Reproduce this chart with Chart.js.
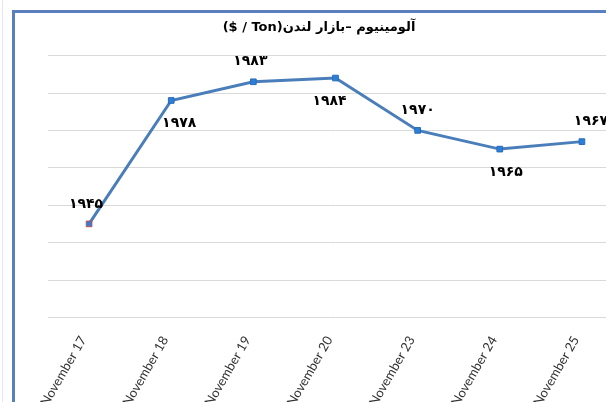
<!DOCTYPE html>
<html>
<head>
<meta charset="utf-8">
<script src="https://cdn.jsdelivr.net/npm/chart.js@4"></script>
<style>
  html, body { margin: 0; padding: 0; background: #fff; overflow: hidden; width: 606px; height: 402px; }
  #edge { position: absolute; left: 2px; top: 0; width: 1px; height: 402px; background: #dfe7f3; }
  #frame { position: absolute; left: 12px; top: 10px; border: 3px solid #5a7fbe; width: 625px; height: 420px; }
</style>
</head>
<body>
<div id="edge"></div>
<div id="frame"><canvas id="myChart" width="625" height="420"></canvas></div>
<script>
const categories = ["November 17", "November 18", "November 19", "November 20", "November 23", "November 24", "November 25"];
const prices = [1945, 1978, 1983, 1984, 1970, 1965, 1967];
// LTR canvas: unit first so it lands on the left like the original
const titleText = "($ / Ton)آلومینیوم –بازار لندن";

const faDigits = "۰۱۲۳۴۵۶۷۸۹";
const toFa = (n) => String(n).replace(/\d/g, (d) => faDigits[d]);

const pointLabels = {
  id: "pointLabels",
  afterDatasetsDraw(chart, args, opts) {
    const ctx = chart.ctx;
    const meta = chart.getDatasetMeta(0);
    ctx.save();
    ctx.font = "bold 14px 'DejaVu Sans'";
    ctx.fillStyle = "#000";
    ctx.textAlign = "center";
    ctx.textBaseline = "middle";
    meta.data.forEach((pt, i) => {
      const up = opts.side[i] === "above";
      ctx.fillText(toFa(prices[i]), pt.x + (opts.dx[i] || 0), pt.y + (up ? -20 : 23));
    });
    ctx.restore();
  }
};

const ctx = document.querySelector("#myChart");

const myChart = new Chart(ctx, {
  type: "line",
  data: {
    labels: categories,
    datasets: [
      {
        data: prices,
        borderColor: "#4a7ebb",
        borderWidth: 3,
        tension: 0,
        pointStyle: "rect",
        pointRadius: 4,
        pointBackgroundColor: "#2c7fd8",
        pointBorderColor: ["#c0504d", "#2a6ab8", "#2a6ab8", "#2a6ab8", "#2a6ab8", "#2a6ab8", "#2a6ab8"],
        pointBorderWidth: 1,
      },
    ],
  },
  options: {
    responsive: false,
    animation: false,
    layout: { padding: { left: 0, right: 17, top: 0, bottom: 16 } },
    plugins: {
      legend: { display: false },
      tooltip: { enabled: false },
      title: {
        display: true,
        text: titleText,
        color: "#000",
        font: { family: "'DejaVu Sans'", size: 13, weight: "bold" },
        padding: { top: 7, bottom: 20 },
      },
      pointLabels: {
        side: ["above", "below", "above", "below", "above", "below", "above"],
        dx: [-3, 8, -3, -6, 0, 6, 9],
      },
    },
    scales: {
      x: {
        offset: true,
        grid: { display: false, offset: true },
        border: { display: false },
        ticks: {
          color: "#333333",
          font: { family: "Lato", size: 13 },
          minRotation: 60,
          maxRotation: 60,
          padding: 8,
          labelOffset: -6,
        },
      },
      y: {
        min: 1920,
        max: 1990,
        border: { display: false },
        grid: { color: "#d9d9d9", lineWidth: 1, drawTicks: false },
        ticks: { display: false, stepSize: 10 },
        afterFit(scale) { scale.width = 33; },
      },
    },
  },
  plugins: [pointLabels],
});
</script>
</body>
</html>
